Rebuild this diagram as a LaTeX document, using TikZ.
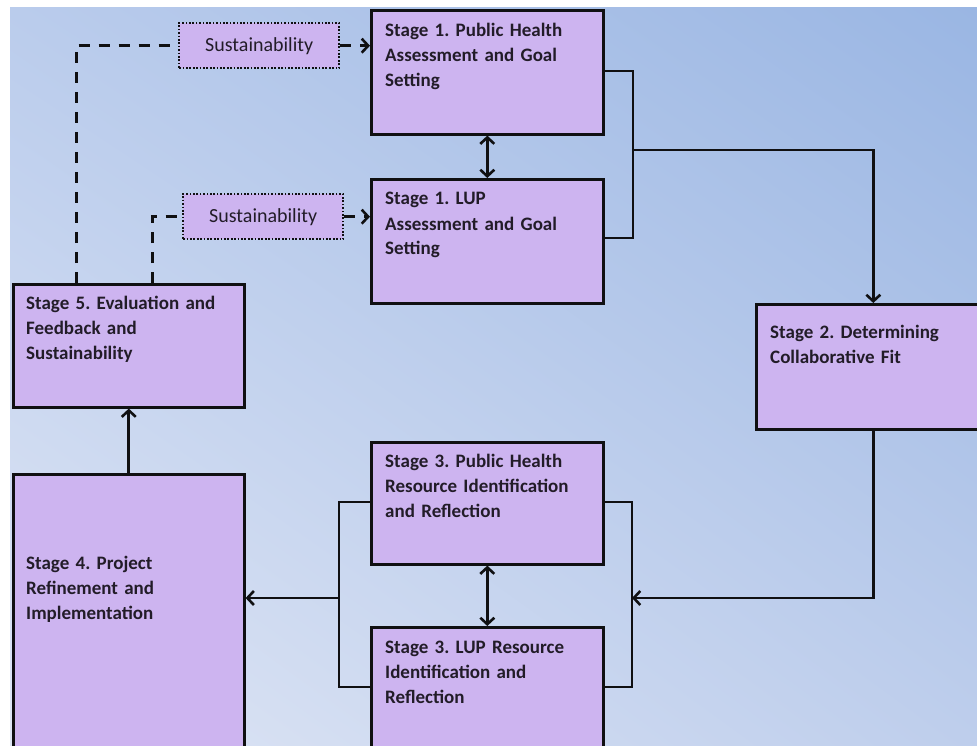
\documentclass[tikz,border=0pt]{standalone}
\usepackage{fontspec}
\setmainfont{Carlito}
\usetikzlibrary{arrows.meta,calc,shadings}
\frenchspacing

\definecolor{boxfill}{RGB}{205,180,240}
\definecolor{inkcol}{RGB}{16,16,18}
\definecolor{textcol}{RGB}{34,28,40}
\definecolor{bgUL}{RGB}{186,204,236}
\definecolor{bgUR}{RGB}{154,182,227}
\definecolor{bgLL}{RGB}{223,230,245}
\definecolor{bgLR}{RGB}{190,206,236}

\tikzset{
  stagebox/.style={draw=inkcol, line width=2.6pt, fill=boxfill, anchor=north west,
    minimum width=232pt, minimum height=124pt, inner sep=0pt},
  stagetext/.style={anchor=base west, align=left, text width=225pt, inner sep=0pt,
    font=\bfseries\fontsize{19}{25}\selectfont, text=textcol},
  susbox/.style={draw=inkcol, line width=2.4pt, dash pattern=on 1.7pt off 1.7pt,
    fill=boxfill, anchor=north west, minimum width=160pt, minimum height=45pt,
    inner sep=0pt, font=\fontsize{20}{24}\selectfont, text=textcol},
  link/.style={draw=inkcol, line width=2.8pt},
  dashlink/.style={draw=inkcol, line width=3pt, dash pattern=on 11pt off 9pt},
  tip/.style={-{Straight Barb[length=6.5pt,width=14pt,line width=2.6pt]}},
  bothtips/.style={{Straight Barb[length=6.5pt,width=14pt,line width=2.6pt]}-{Straight Barb[length=6.5pt,width=14pt,line width=2.6pt]}},
}

\begin{document}
\begin{tikzpicture}[x=1pt,y=-1pt]
  % page area and gradient backdrop
  \fill[white] (0,0) rectangle (977,746);
  \useasboundingbox (0,0) rectangle (977,746);
  \shade[upper left=bgUL, upper right=bgUR, lower left=bgLL, lower right=bgLR]
    (10,8) rectangle (977,746);

  % stage boxes
  \node[stagebox] (s1ph)  at (370,9)   {};
  \node[stagebox] (s1lup) at (370,178) {};
  \node[stagebox, minimum width=234pt, minimum height=125pt] (s2) at (755,303) {};
  \node[stagebox, minimum height=122pt] (s3ph)  at (370,441) {};
  \node[stagebox, minimum height=150pt] (s3lup) at (370,626) {};
  \node[stagebox, minimum width=231pt, minimum height=123pt] (s5) at (12,283) {};
  \node[stagebox, minimum width=231pt, minimum height=300pt] (s4) at (12,473) {};

  % stage labels
  \node[stagetext] (l1ph)  at (385,37)  {Stage 1. Public Health\\Assessment and Goal\\Setting};
  \node[stagetext] (l1lup) at (385,205) {Stage 1. LUP\\Assessment and Goal\\Setting};
  \node[stagetext] (l2)    at (770,338) {Stage 2. Determining\\Collaborative Fit};
  \node[stagetext] (l3ph)  at (385,467) {Stage 3. Public Health\\Resource Identification\\and Reflection};
  \node[stagetext] (l3lup) at (385,653) {Stage 3. LUP Resource\\Identification and\\Reflection};
  \node[stagetext] (l5)    at (26,309)  {Stage 5. Evaluation and\\Feedback and\\Sustainability};
  \node[stagetext] (l4)    at (26,569)  {Stage 4. Project\\Refinement and\\Implementation};

  % sustainability boxes
  \node[susbox] (sus1) at (178,22)  {Sustainability};
  \node[susbox] (sus2) at (182,193) {Sustainability};

  % feedback paths from stage 5
  \draw[dashlink] ($(s5.north west)+(64,0)$) |- (sus1.west);
  \draw[dashlink, tip] (sus1.east) -- (sus1.east -| s1ph.west);
  \draw[dashlink] ($(s5.north west)+(140,0)$) |- (sus2.west);
  \draw[dashlink, tip] (sus2.east) -- (sus2.east -| s1lup.west);

  % stage 1 pair
  \draw[link, bothtips] (s1ph.south) -- (s1lup.north);
  \coordinate (j1) at (633,150);
  \draw[link] ($(s1ph.north east)+(0,62)$) -| (j1) |- ($(s1lup.north east)+(0,60)$);
  \draw[link, tip] (j1) -| (s2.north);

  % stage 3 pair
  \coordinate (j2) at (632,598);
  \coordinate (j3) at (339,598);
  \draw[link, tip] (s2.south) |- (j2);
  \draw[link] ($(s3ph.north east)+(0,61)$) -| (j2) |- ($(s3lup.north east)+(0,61)$);
  \draw[link] ($(s3ph.north west)+(0,61)$) -| (j3) |- ($(s3lup.north west)+(0,61)$);
  \draw[link, bothtips] (s3ph.south) -- (s3lup.north);
  \draw[link, tip] (j3) -- (j3 -| s4.east);

  % stage 4 to stage 5
  \draw[link, tip] (s4.north) -- (s5.south);
\end{tikzpicture}
\end{document}
